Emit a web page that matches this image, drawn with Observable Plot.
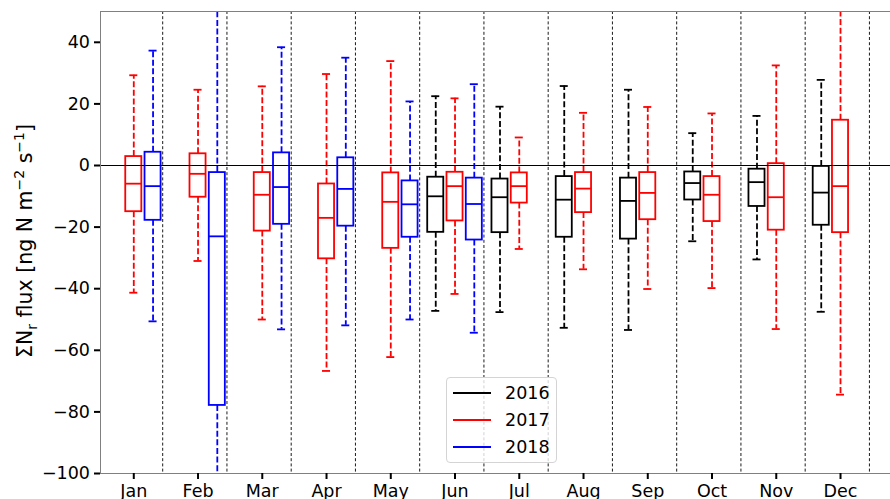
<!DOCTYPE html>
<html><head><meta charset="utf-8">
<script src="https://cdn.jsdelivr.net/npm/d3@7"></script>
<script src="https://cdn.jsdelivr.net/npm/@observablehq/plot@0.6"></script>
<style>
body{margin:0;background:#fff;}
#wrap{position:relative;width:890px;height:499px;overflow:hidden;font-family:"DejaVu Sans",sans-serif;}
#legend{position:absolute;left:446px;top:377px;width:111px;height:86px;border:1px solid #d4d4d4;border-radius:4px;background:rgba(255,255,255,0.8);box-sizing:border-box;}
.row{position:absolute;left:6px;height:24px;display:flex;align-items:center;}
.sw{width:38px;height:0;border-top:2px solid;}
.lab{margin-left:14px;font-size:17.5px;color:#000;}
</style></head>
<body><div id="wrap"><div id="legend"></div></div>
<script>
// ---- data ----
const months = ["Jan","Feb","Mar","Apr","May","Jun","Jul","Aug","Sep","Oct","Nov","Dec"];
const years = ["2016","2017","2018"];
const yearColors = ["black","red","blue"];
const yTicks = [-100,-80,-60,-40,-20,0,20,40];
// per month: [lowerWhisker, Q1, median, Q3, upperWhisker]; null = no data
const stats2016 = [null,null,null,null,null,
  [-47.2,-21.7,-10.0,-3.8,22.5],
  [-47.6,-21.8,-10.3,-4.4,19.1],
  [-52.7,-23.3,-11.1,-3.6,25.8],
  [-53.4,-23.9,-11.5,-4.1,24.6],
  [-24.6,-11.2,-5.7,-2.1,10.5],
  [-30.5,-13.3,-5.4,-1.2,16.1],
  [-47.5,-19.4,-8.8,-0.3,27.8]];
const stats2017 = [
  [-41.3,-15.0,-5.9,2.9,29.3],
  [-31.0,-10.3,-2.7,3.8,24.6],
  [-50.0,-21.3,-9.5,-2.3,25.7],
  [-66.7,-30.3,-17.0,-6.0,29.7],
  [-62.2,-26.9,-11.8,-2.4,33.9],
  [-41.7,-18.0,-6.7,-2.2,21.8],
  [-27.1,-12.2,-6.7,-2.4,9.1],
  [-33.7,-15.3,-7.5,-2.3,17.1],
  [-40.1,-17.6,-8.9,-2.3,19.0],
  [-39.8,-18.2,-9.5,-3.6,16.9],
  [-53.1,-21.0,-10.3,0.6,32.5],
  [-74.4,-21.8,-6.7,14.7,56.0]];
const stats2018 = [
  [-50.6,-17.8,-6.7,4.3,37.3],
  [-118.0,-77.9,-23.0,-2.3,56.0],
  [-53.2,-19.1,-7.0,4.1,38.4],
  [-51.9,-19.7,-7.6,2.5,35.0],
  [-50.0,-23.3,-12.6,-5.0,20.8],
  [-54.3,-24.2,-12.5,-4.1,26.4],
  null,null,null,null,null,null];

// ---- layout constants ----
const yearOffsets = [-0.3, 0, 0.3];
const boxW = 0.25, capW = 0.125;
const xDomain = [0.482, 12.778];
const allStats = [stats2016, stats2017, stats2018];

const rows = [];
allStats.forEach((arr, i) => arr.forEach((s, m) => {
  if (!s) return;
  const pos = m + 1 + yearOffsets[i];
  rows.push({year: years[i], color: yearColors[i], pos, x1: pos - boxW/2, x2: pos + boxW/2,
    c1: pos - capW/2, c2: pos + capW/2, lo: s[0], q1: s[1], med: s[2], q3: s[3], hi: s[4]});
}));
const seps = months.map((_, m) => m + 1 + 0.45);
const monthIdx = months.map((_, m) => m + 1);

const lw = 1.8;
const plot = Plot.plot({
  width: 890, height: 499,
  marginLeft: 100, marginRight: 0, marginTop: 11, marginBottom: 26,
  style: {fontFamily: "DejaVu Sans", fontSize: "17.5px", color: "black", background: "white", overflow: "visible"},
  x: {domain: xDomain, label: null},
  y: {domain: [-100, 50], label: null},
  color: {type: "identity"},
  marks: [
    Plot.ruleX(seps, {x: d => d, stroke: "black", strokeWidth: 0.9, strokeDasharray: "3,2.2"}),
    Plot.ruleX(rows, {x: "pos", y1: "q3", y2: "hi", stroke: "color", strokeWidth: lw, strokeDasharray: "6,2.6", clip: true}),
    Plot.ruleX(rows, {x: "pos", y1: "q1", y2: "lo", stroke: "color", strokeWidth: lw, strokeDasharray: "6,2.6", clip: true}),
    Plot.ruleY(rows, {y: "hi", x1: "c1", x2: "c2", stroke: "color", strokeWidth: lw, clip: true}),
    Plot.ruleY(rows, {y: "lo", x1: "c1", x2: "c2", stroke: "color", strokeWidth: lw, clip: true}),
    Plot.rect(rows, {x1: "x1", x2: "x2", y1: "q1", y2: "q3", stroke: "color", fill: "none", strokeWidth: lw, clip: true}),
    Plot.ruleY(rows, {y: "med", x1: "x1", x2: "x2", stroke: "color", strokeWidth: lw, clip: true}),
    Plot.ruleY([0], {stroke: "black", strokeWidth: 1}),
    Plot.ruleX([xDomain[0]], {stroke: "#808080", strokeWidth: 1}),
    Plot.ruleY([50, -100], {stroke: "#808080", strokeWidth: 1}),
    Plot.axisY(yTicks, {tickSize: 6, tickPadding: 4.5, strokeWidth: 2, label: null}),
    Plot.axisX(monthIdx, {tickSize: 6, tickPadding: 5, strokeWidth: 2, label: null, tickFormat: d => months[d - 1]})
  ]
});
const wrap = document.getElementById("wrap");
wrap.insertBefore(plot, wrap.firstChild);

// y-axis label with subscript/superscripts
const t = d3.select(plot).append("text")
  .attr("transform", "translate(32,241) rotate(-90)")
  .attr("text-anchor", "middle")
  .attr("font-size", "20.5px").attr("fill", "black");
t.append("tspan").text("ΣN");
t.append("tspan").attr("dy", 5).attr("font-size", "14px").text("r");
t.append("tspan").attr("dy", -5).text(" flux [ng N m");
t.append("tspan").attr("dy", -8).attr("font-size", "14px").text("−2");
t.append("tspan").attr("dy", 8).text(" s");
t.append("tspan").attr("dy", -8).attr("font-size", "14px").text("−1");
t.append("tspan").attr("dy", 8).text("]");

// legend
const leg = document.getElementById("legend");
years.forEach((y, i) => {
  const r = document.createElement("div");
  r.className = "row";
  r.style.top = (3 + i * 26.8) + "px";
  r.innerHTML = `<div class="sw" style="border-color:${yearColors[i]}"></div><span class="lab">${y}</span>`;
  leg.appendChild(r);
});
</script>
</body></html>
